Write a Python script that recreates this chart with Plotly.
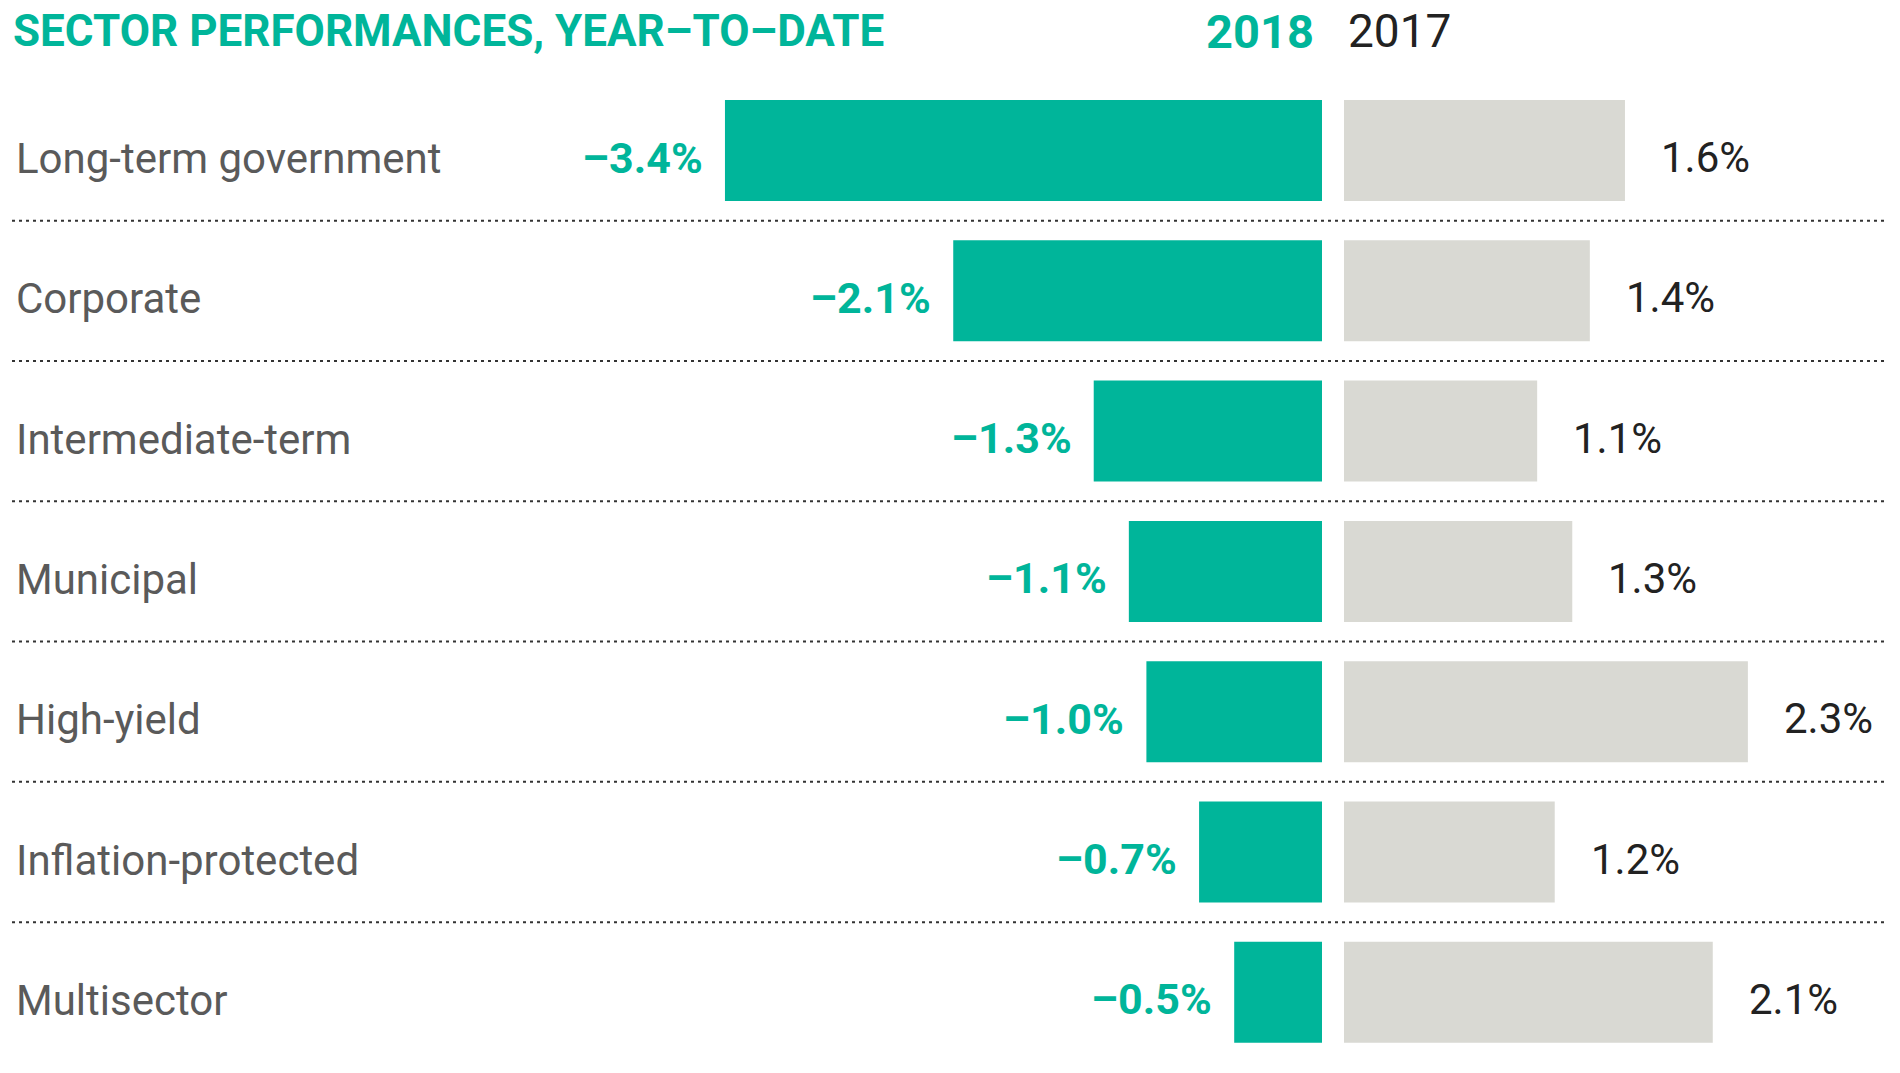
import plotly.graph_objects as go

categories = ["Long-term government", "Corporate", "Intermediate-term", "Municipal",
              "High-yield", "Inflation-protected", "Multisector"]
ytd_2018 = [-3.4, -2.1, -1.3, -1.1, -1.0, -0.7, -0.5]
ytd_2017 = [1.6, 1.4, 1.1, 1.3, 2.3, 1.2, 2.1]
labels_2018 = ["\u20133.4%", "\u20132.1%", "\u20131.3%", "\u20131.1%", "\u20131.0%", "\u20130.7%", "\u20130.5%"]
labels_2017 = ["1.6%", "1.4%", "1.1%", "1.3%", "2.3%", "1.2%", "2.1%"]
title_text = "SECTOR PERFORMANCES, YEAR\u2013TO\u2013DATE"
year_labels = ["2018", "2017"]

W, H = 1900, 1073
TEAL = "#00B59A"
GRAY = "#D9D9D3"
FONT = "Roboto, Liberation Sans Narrow, sans-serif"

PX_PER_UNIT = 175.6
ZERO_PX = 1322
GAP = 22 / PX_PER_UNIT
x_range = [-ZERO_PX / PX_PER_UNIT, (W - ZERO_PX) / PX_PER_UNIT]
ROW0 = 150.5
ROW_H = 140.3
y_range = [(H - ROW0) / ROW_H, -ROW0 / ROW_H]

fig = go.Figure()
fig.add_trace(go.Bar(y=categories, x=ytd_2018, orientation="h", marker=dict(color=TEAL, line=dict(width=0)),
                     width=0.72, name="2018", hoverinfo="x+y"))
fig.add_trace(go.Bar(y=categories, x=ytd_2017, base=[GAP] * len(categories), orientation="h",
                     marker=dict(color=GRAY, line=dict(width=0)), width=0.72, name="2017", hoverinfo="x+y"))

ann = []
for i, c in enumerate(categories):
    ann.append(dict(x=14 / W, xref="paper", y=c, yref="y", text=c, showarrow=False, xanchor="left",
                    yanchor="middle", yshift=-8, font=dict(family=FONT, size=42, color="#5A5A5A")))
    ann.append(dict(x=ytd_2018[i], xref="x", y=c, yref="y", text="<b>" + labels_2018[i] + "</b>", showarrow=False,
                    xanchor="right", yanchor="middle", xshift=-20, yshift=-7,
                    font=dict(family=FONT, size=43, color=TEAL)))
    ann.append(dict(x=GAP + ytd_2017[i], xref="x", y=c, yref="y", text=labels_2017[i], showarrow=False,
                    xanchor="left", yanchor="middle", xshift=34, yshift=-7,
                    font=dict(family=FONT, size=42, color="#222222")))

ann.append(dict(x=11 / W, xref="paper", y=1 - 3 / H, yref="paper", text="<b>" + title_text + "</b>",
                showarrow=False, xanchor="left", yanchor="top", font=dict(family=FONT, size=44, color=TEAL)))
ann.append(dict(x=0, xref="x", y=1 - 2 / H, yref="paper", text="<b>" + year_labels[0] + "</b>", showarrow=False,
                xanchor="right", yanchor="top", xshift=-6, font=dict(family=FONT, size=47, color=TEAL)))
ann.append(dict(x=GAP, xref="x", y=1 - 2 / H, yref="paper", text=year_labels[1], showarrow=False,
                xanchor="left", yanchor="top", xshift=2, font=dict(family=FONT, size=46, color="#222222")))

shapes = []
for i in range(len(categories) - 1):
    shapes.append(dict(type="line", xref="paper", yref="y", x0=12 / W, x1=1888 / W, y0=i + 0.5, y1=i + 0.5,
                       line=dict(color="#333333", width=2, dash="3px,4px")))

fig.update_layout(
    width=W, height=H, margin=dict(l=0, r=0, t=0, b=0),
    paper_bgcolor="white", plot_bgcolor="white", showlegend=False, barmode="overlay",
    xaxis=dict(range=x_range, visible=False, fixedrange=True),
    yaxis=dict(range=y_range, visible=False, fixedrange=True, categoryorder="array", categoryarray=categories),
    annotations=ann, shapes=shapes,
)
fig.write_html("out.html", config={"displayModeBar": False},
               post_script="document.body.style.margin='0';")
